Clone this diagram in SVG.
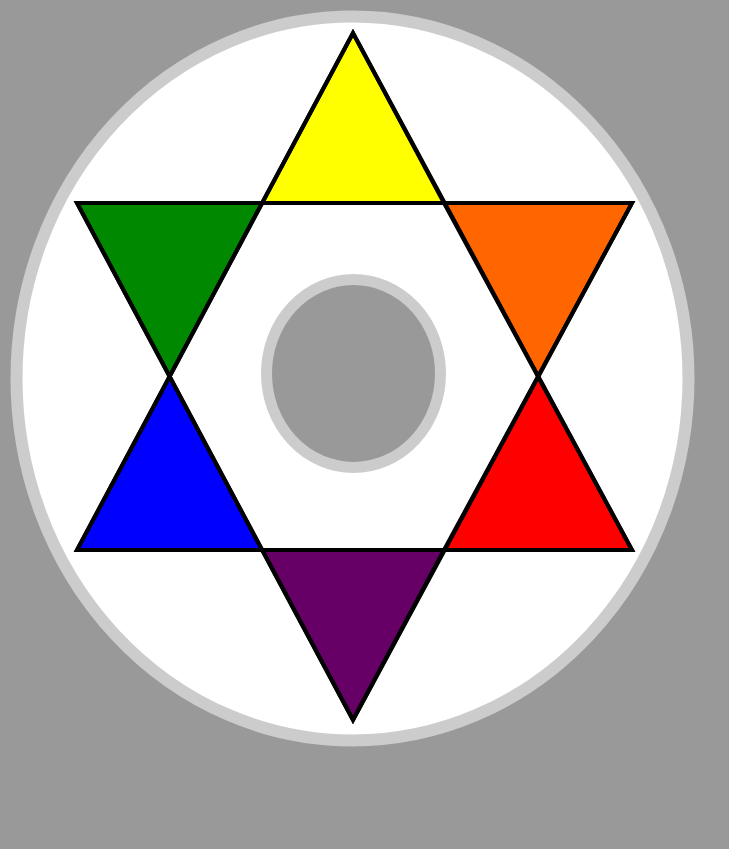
<svg xmlns="http://www.w3.org/2000/svg" width="729" height="849" viewBox="0 0 729 849">
<style>
.tri{stroke:#000;stroke-width:4;stroke-linejoin:miter}
.ring{stroke:#cccccc}
</style>
<rect x="0" y="0" width="729" height="849" fill="#999999"/>
<g id="disc">
<ellipse class="ring" cx="352.5" cy="378.5" rx="336" ry="362" fill="#ffffff" stroke-width="12"/>
</g>
<g id="hole">
<ellipse class="ring" cx="353.5" cy="373.5" rx="87" ry="94" fill="#999999" stroke-width="11"/>
</g>
<g id="yellow"><polygon class="tri" fill="#ffff00" points="353,33 262,203 444,203"/></g>
<g id="orange"><polygon class="tri" fill="#ff6600" points="444,203 632,203 538,376.5"/></g>
<g id="red"><polygon class="tri" fill="#ff0000" points="538,376.5 632,550 444,550"/></g>
<g id="purple"><polygon class="tri" fill="#660066" points="444,550 262,550 353,720"/></g>
<g id="blue"><polygon class="tri" fill="#0000ff" points="169.6,376.5 262,550 77,550"/></g>
<g id="green"><polygon class="tri" fill="#008800" points="77,203 262,203 169.6,376.5"/></g>
<g id="outline" fill="none" stroke="#000" stroke-width="4" stroke-linejoin="miter">
<polygon points="353,33 632,550 77,550"/>
<polygon points="77,203 632,203 353,720"/>
</g>
</svg>
